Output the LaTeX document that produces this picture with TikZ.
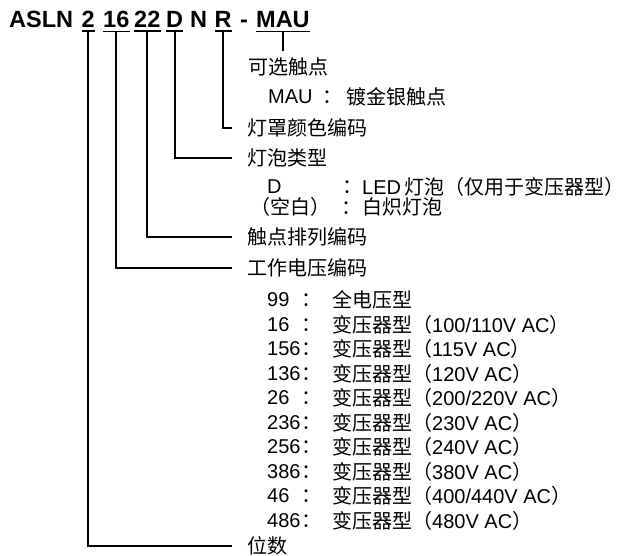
\documentclass[tikz,border=0pt]{standalone}
\usepackage{fontspec}
\setmainfont{Liberation Sans}
\newfontfamily\cjk{Noto Sans CJK SC}
\newcommand\colonbox[2]{\makebox[#1][l]{#2}{\cjk ：}}
\newcommand\vrow[4]{%
  \node[lbl] (v#1) at (267,#4) {\colonbox{34.5pt}{#2}};
  \node[lbl] (vd#1) at (332,#4) {#3};
}
\newcommand\trf[1]{{\cjk 变压器型（}#1{\cjk ）}}
\tikzset{
  hd/.style={font=\fontsize{23.5}{26}\selectfont\bfseries, inner xsep=0pt, inner ysep=3pt, anchor=base west},
  lbl/.style={font=\fontsize{20}{24}\selectfont, inner sep=0pt, anchor=west},
  conn/.style={line width=2pt},
  ul/.style={line width=1.6pt},
}
\begin{document}
\begin{tikzpicture}[x=1pt,y=-1pt]
\useasboundingbox (0,0) rectangle (625,556);
% heading
\node[hd] (asln) at (9,28) {ASLN};
\node[hd] (c2) at (81.5,28) {2};
\node[hd] (c16) at (103,28) {16};
\node[hd] (c22) at (134,28) {22};
\node[hd] (cD) at (166,28) {D};
\node[hd] (cN) at (190,28) {N};
\node[hd] (cR) at (214.5,28) {R};
\node[hd] (dash) at (240,28) {-};
\node[hd] (cMAU) at (256,28) {MAU};
\foreach \n in {c2,c16,c22,cD,cR,cMAU}{
  \draw[ul] (\n.south west) -- (\n.south east);
}
% labels
\node[lbl] (lopt) at (248,67) {\cjk 可选触点};
\node[lbl] (mau) at (268,97) {\colonbox{54pt}{MAU}};
\node[lbl] (maudesc) at (346,97) {\cjk 镀金银触点};
\node[lbl] (lR) at (247,128) {\cjk 灯罩颜色编码};
\node[lbl] (lD) at (247,158) {\cjk 灯泡类型};
\node[lbl] (dcode) at (267,187) {\colonbox{75pt}{D}};
\node[lbl] (ddesc) at (362,187) {LED\,{\cjk 灯泡（仅用于变压器型）}};
\node[lbl] (bcode) at (250,207) {\colonbox{91pt}{\cjk （空白）}};
\node[lbl] (bdesc) at (362,207) {\cjk 白炽灯泡};
\node[lbl] (l22) at (247,237) {\cjk 触点排列编码};
\node[lbl] (l16) at (247,268) {\cjk 工作电压编码};
\vrow{1}{99}{{\cjk 全电压型}}{300}
\vrow{2}{16}{\trf{100/110V AC}}{324.5}
\vrow{3}{156}{\trf{115V AC}}{349}
\vrow{4}{136}{\trf{120V AC}}{373.5}
\vrow{5}{26}{\trf{200/220V AC}}{398}
\vrow{6}{236}{\trf{230V AC}}{422.5}
\vrow{7}{256}{\trf{240V AC}}{447}
\vrow{8}{386}{\trf{380V AC}}{471.5}
\vrow{9}{46}{\trf{400/440V AC}}{496}
\vrow{10}{486}{\trf{480V AC}}{520.5}
\node[lbl] (l2) at (247,546) {\cjk 位数};
% connectors
\draw[conn, shorten >=7pt] (cMAU.south) -- (cMAU.south |- lopt.north);
\draw[conn, shorten >=15pt] (cR.south) |- (lR.west);
\draw[conn, shorten >=15pt] (cD.south) |- (lD.west);
\draw[conn, shorten >=15pt] (c22.south) |- (l22.west);
\draw[conn, shorten >=15pt] (c16.south) |- (l16.west);
\draw[conn, shorten >=15pt] (c2.south) |- (l2.west);
\end{tikzpicture}
\end{document}
